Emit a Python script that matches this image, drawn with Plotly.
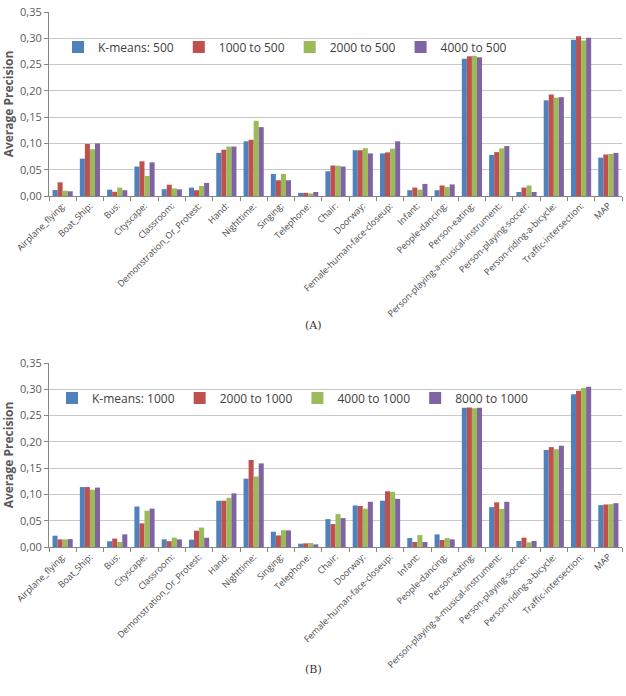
import plotly.graph_objects as go

categories = ["Airplane_flying:", "Boat_Ship:", "Bus:", "Cityscape:", "Classroom:",
              "Demonstration_Or_Protest:", "Hand:", "Nighttime:", "Singing:", "Telephone:",
              "Chair:", "Doorway:", "Female-human-face-closeup:", "Infant:", "People-dancing:",
              "Person-eating:", "Person-playing-a-musical-instrument:", "Person-playing-soccer:",
              "Person-riding-a-bicycle:", "Traffic-intersection:", "MAP"]

# Panel A
names_a = ["K-means: 500", "1000 to 500", "2000 to 500", "4000 to 500"]
kmeans_500 = [0.0114, 0.071, 0.012, 0.056, 0.013, 0.016, 0.082, 0.104, 0.042, 0.006,
              0.047, 0.087, 0.081, 0.011, 0.011, 0.261, 0.078, 0.0076, 0.182, 0.297, 0.073]
a_1000_500 = [0.026, 0.099, 0.008, 0.066, 0.0215, 0.011, 0.088, 0.107, 0.030, 0.006,
              0.058, 0.087, 0.083, 0.016, 0.020, 0.266, 0.0835, 0.016, 0.193, 0.304, 0.079]
a_2000_500 = [0.010, 0.089, 0.016, 0.038, 0.0145, 0.019, 0.094, 0.143, 0.042, 0.005,
              0.0576, 0.091, 0.090, 0.012, 0.017, 0.267, 0.0905, 0.020, 0.187, 0.296, 0.080]
a_4000_500 = [0.009, 0.100, 0.011, 0.064, 0.0127, 0.025, 0.094, 0.131, 0.030, 0.0076,
              0.056, 0.081, 0.104, 0.023, 0.022, 0.264, 0.095, 0.0076, 0.188, 0.301, 0.082]

# Panel B
names_b = ["K-means: 1000", "2000 to 1000", "4000 to 1000", "8000 to 1000"]
kmeans_1000 = [0.0215, 0.114, 0.011, 0.077, 0.0145, 0.014, 0.088, 0.130, 0.029, 0.0063,
               0.053, 0.079, 0.088, 0.017, 0.024, 0.2647, 0.0758, 0.0114, 0.1845, 0.2906, 0.0796]
b_2000_1000 = [0.0145, 0.114, 0.016, 0.045, 0.011, 0.031, 0.088, 0.1655, 0.022, 0.007,
               0.0436, 0.078, 0.106, 0.0095, 0.0133, 0.2653, 0.085, 0.0177, 0.190, 0.297, 0.081]
b_4000_1000 = [0.0145, 0.109, 0.0095, 0.069, 0.018, 0.037, 0.0935, 0.134, 0.032, 0.0076,
               0.0625, 0.073, 0.105, 0.0227, 0.017, 0.264, 0.0726, 0.0088, 0.186, 0.3026, 0.0815]
b_8000_1000 = [0.015, 0.113, 0.024, 0.073, 0.0145, 0.0177, 0.102, 0.159, 0.0316, 0.005,
               0.055, 0.086, 0.0916, 0.0095, 0.0145, 0.2647, 0.086, 0.0114, 0.1927, 0.305, 0.0834]

y_ticks = [0, 0.05, 0.10, 0.15, 0.20, 0.25, 0.30, 0.35]
colors = ["#4F81BD", "#C0504D", "#9BBB59", "#8064A2"]

W, H = 626, 696
fig = go.Figure()

series_a = [kmeans_500, a_1000_500, a_2000_500, a_4000_500]
series_b = [kmeans_1000, b_2000_1000, b_4000_1000, b_8000_1000]
for i, (n, v) in enumerate(zip(names_a, series_a)):
    fig.add_trace(go.Bar(x=categories, y=v, name=n, marker=dict(color=colors[i], line=dict(width=0)),
                         xaxis="x", yaxis="y", legend="legend"))
for i, (n, v) in enumerate(zip(names_b, series_b)):
    fig.add_trace(go.Bar(x=categories, y=v, name=n, marker=dict(color=colors[i], line=dict(width=0)),
                         xaxis="x2", yaxis="y2", legend="legend2"))

xdom = [49 / W, 622 / W]
dom_a = [1 - 196 / H, 1 - 12 / H]
dom_b = [1 - 547 / H, 1 - 363 / H]

font_family = "Open Sans, Liberation Sans, sans-serif"
tickfont = dict(family=font_family, size=11, color="#595959")
catfont = dict(family=font_family, size=9, color="#4a4a4a")

def xa(dom_anchor):
    return dict(domain=xdom, anchor=dom_anchor, type="category", tickangle=-45,
                tickfont=catfont, showline=True, linecolor="#868686", linewidth=1,
                ticks="outside", tickson="boundaries", ticklen=4, tickcolor="#868686",
                showgrid=False, automargin=False, fixedrange=True)

def ya(dom, anchor):
    return dict(domain=dom, anchor=anchor, range=[0, 0.35], tickvals=y_ticks, tickformat=".2f",
                tickfont=tickfont, showline=True, linecolor="#868686", linewidth=1,
                ticks="outside", ticklen=4, tickcolor="#868686",
                showgrid=True, gridcolor="#C8C8C8", gridwidth=1, zeroline=False,
                title=dict(text="<b>Average Precision</b>", font=dict(family=font_family, size=12, color="#595959"),
                           standoff=6),
                automargin=False, fixedrange=True)

legfont = dict(family=font_family, size=12, color="#404040")
fig.update_layout(
    width=W, height=H, margin=dict(l=0, r=0, t=0, b=0),
    template="none", paper_bgcolor="white", plot_bgcolor="white",
    separators=",.", barmode="group", bargap=0.26, bargroupgap=0,
    xaxis=xa("y"), yaxis=ya(dom_a, "x"),
    xaxis2=xa("y2"), yaxis2=ya(dom_b, "x2"),
    legend=dict(orientation="h", x=58 / W, y=1 - 47 / H, xanchor="left", yanchor="middle",
                font=legfont, bgcolor="rgba(0,0,0,0)", itemwidth=30, tracegroupgap=0),
    legend2=dict(orientation="h", x=52 / W, y=1 - 398 / H, xanchor="left", yanchor="middle",
                 font=legfont, bgcolor="rgba(0,0,0,0)", itemwidth=30, tracegroupgap=0),
    annotations=[
        dict(text="(A)", x=0.5, y=1 - 325 / H, xref="paper", yref="paper", showarrow=False,
             font=dict(family="DejaVu Serif, Liberation Serif, serif", size=11, color="#333333")),
        dict(text="(B)", x=0.5, y=1 - 678 / H, xref="paper", yref="paper", showarrow=False,
             font=dict(family="DejaVu Serif, Liberation Serif, serif", size=11, color="#333333")),
    ],
)

fig.write_html("out.html")
